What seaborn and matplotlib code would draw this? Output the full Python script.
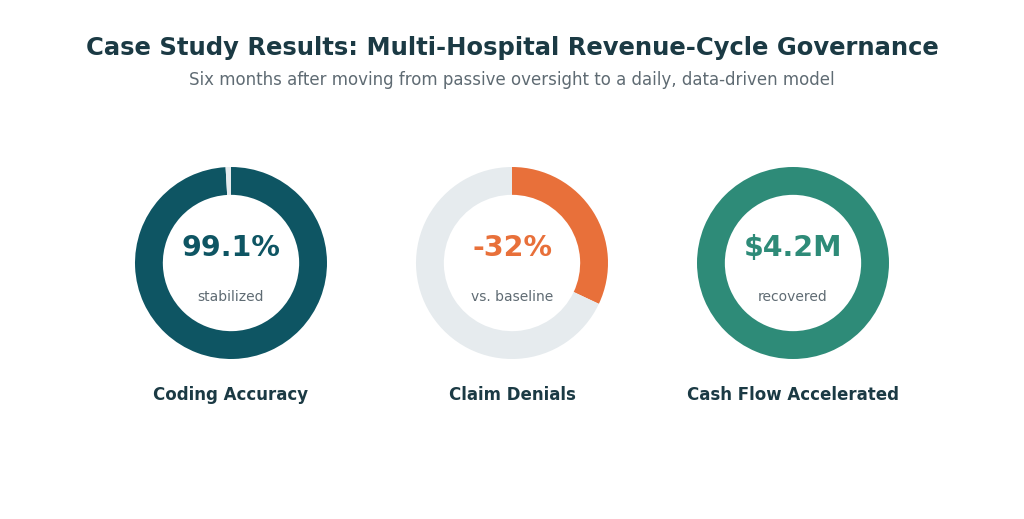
import matplotlib
matplotlib.use("Agg")
import matplotlib.pyplot as plt
import seaborn as sns

# data
metrics = ["Coding Accuracy", "Claim Denials", "Cash Flow Accelerated"]
shares = [99.1, 32.0, 100.0]          # share of ring filled, percent
big_labels = ["99.1%", "-32%", "$4.2M"]
sub_labels = ["stabilized", "vs. baseline", "recovered"]

colors = ["#0e5563", "#e8703a", "#2e8b78"]
track = "#e6ebee"
dark = "#1b3a44"
grey = "#5f6b73"

sns.set_theme(style="white")
plt.rcParams["font.family"] = ["DejaVu Sans"]

fig = plt.figure(figsize=(10.24, 5.19), dpi=100)
ax = fig.add_axes([0, 0, 1, 1])
ax.set_xlim(0, 1024)
ax.set_ylim(0, 519)
ax.axis("off")

H = 519
centers_x = [231, 512, 793]
cy = H - 263
r = 96

for i in range(len(metrics)):
    val = shares[i]
    rest = max(100 - val, 0)
    sizes = [val, rest] if rest > 0 else [val]
    cols = [colors[i], track] if rest > 0 else [colors[i]]
    ax.pie(sizes, colors=cols, startangle=90, counterclock=False,
           center=(centers_x[i], cy), radius=r,
           wedgeprops=dict(width=r * 0.29, linewidth=0))
    ax.text(centers_x[i], H - 248, big_labels[i], ha="center", va="center",
            fontsize=20.5, fontweight="bold", color=colors[i])
    ax.text(centers_x[i], H - 297, sub_labels[i], ha="center", va="center",
            fontsize=10, color=grey)
    ax.text(centers_x[i], H - 395, metrics[i], ha="center", va="center",
            fontsize=12, fontweight="bold", color=dark)

ax.set_xlim(0, 1024)
ax.set_ylim(0, 519)
ax.set_aspect("auto")

ax.text(512, H - 48, "Case Study Results: Multi-Hospital Revenue-Cycle Governance",
        ha="center", va="center", fontsize=17.5, fontweight="bold", color=dark)
ax.text(512, H - 80, "Six months after moving from passive oversight to a daily, data-driven model",
        ha="center", va="center", fontsize=12, color=grey)

fig.savefig("out.png", dpi=100, facecolor="white")
